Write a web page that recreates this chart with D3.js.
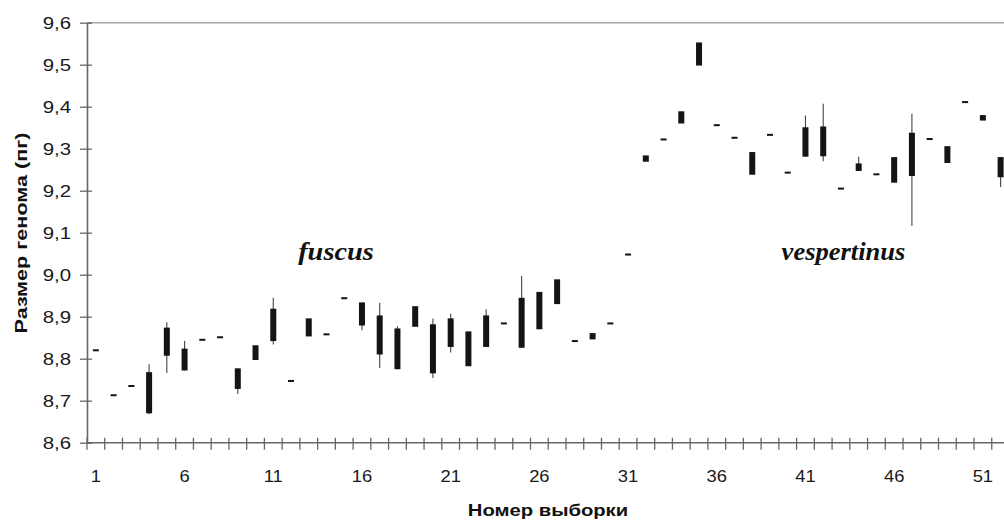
<!DOCTYPE html>
<html>
<head>
<meta charset="utf-8">
<script src="https://cdn.jsdelivr.net/npm/d3@7"></script>
<style>
  body { margin: 0; background: #fff; }
  svg { display: block; }
</style>
</head>
<body>
<script>
// номер выборки 1..52
const samples = d3.range(1, 53)

// границы прямоугольника (верх / низ) и усы (макс / мин), пг
const boxTop = [
  8.820, 8.713, 8.735, 8.768, 8.874, 8.824, 8.845, 8.851, 8.777, 8.832,
  8.919, 8.747, 8.896, 8.858, 8.944, 8.934, 8.903, 8.872, 8.925, 8.882,
  8.896, 8.865, 8.903, 8.884, 8.945, 8.959, 8.989, 8.842, 8.861, 8.884,
  9.048, 9.284, 9.322, 9.389, 9.553, 9.356, 9.326, 9.292, 9.333, 9.243,
  9.351, 9.353, 9.205, 9.265, 9.239, 9.280, 9.338, 9.323, 9.306, 9.411,
  9.380, 9.280
]
const boxBottom = [
  8.820, 8.713, 8.735, 8.670, 8.807, 8.772, 8.845, 8.851, 8.728, 8.797,
  8.842, 8.747, 8.853, 8.858, 8.944, 8.879, 8.810, 8.775, 8.876, 8.765,
  8.828, 8.782, 8.828, 8.884, 8.826, 8.870, 8.930, 8.842, 8.846, 8.884,
  9.048, 9.269, 9.322, 9.360, 9.498, 9.356, 9.326, 9.238, 9.333, 9.243,
  9.281, 9.282, 9.205, 9.247, 9.239, 9.219, 9.235, 9.323, 9.266, 9.411,
  9.367, 9.232
]
const whiskerHigh = [
  8.820, 8.713, 8.735, 8.787, 8.887, 8.842, 8.845, 8.851, 8.777, 8.832,
  8.945, 8.747, 8.896, 8.858, 8.944, 8.934, 8.933, 8.877, 8.925, 8.896,
  8.907, 8.865, 8.918, 8.884, 8.997, 8.959, 8.989, 8.842, 8.861, 8.884,
  9.048, 9.284, 9.322, 9.389, 9.553, 9.356, 9.326, 9.292, 9.333, 9.243,
  9.379, 9.407, 9.205, 9.281, 9.239, 9.280, 9.383, 9.323, 9.306, 9.411,
  9.380, 9.280
]
const whiskerLow = [
  8.820, 8.713, 8.735, 8.668, 8.766, 8.772, 8.845, 8.851, 8.716, 8.797,
  8.834, 8.747, 8.853, 8.858, 8.944, 8.868, 8.778, 8.775, 8.876, 8.754,
  8.815, 8.782, 8.828, 8.884, 8.826, 8.870, 8.930, 8.842, 8.846, 8.884,
  9.048, 9.269, 9.322, 9.360, 9.498, 9.356, 9.326, 9.238, 9.333, 9.243,
  9.281, 9.270, 9.205, 9.247, 9.239, 9.219, 9.116, 9.323, 9.266, 9.411,
  9.367, 9.209
]

const yTicks = [8.6, 8.7, 8.8, 8.9, 9.0, 9.1, 9.2, 9.3, 9.4, 9.5, 9.6]
const xLabels = [1, 6, 11, 16, 21, 26, 31, 36, 41, 46, 51]
const groupNames = ["fuscus", "vespertinus"]

const width = 1004, height = 520
const band = 17.74
const plot = { left: 87, top: 22.7, bottom: 442.7 }
const sans = "'Liberation Sans', Arial, sans-serif"
const serif = "'Liberation Serif', 'Times New Roman', serif"

const data = samples.map(function(s, i) {
  return { s: s, top: boxTop[i], bottom: boxBottom[i], hi: whiskerHigh[i], lo: whiskerLow[i] }
})

// картинка растянута по горизонтали, поэтому текст тоже растягиваем
function stretch(sel, k) {
  sel.each(function() {
    const w = this.getComputedTextLength()
    d3.select(this).attr("textLength", w * k).attr("lengthAdjust", "spacingAndGlyphs")
  })
}

const svg = d3.select("body").append("svg")
  .attr("width", width)
  .attr("height", height)

const x = d3.scaleBand()
  .domain(samples)
  .range([plot.left, plot.left + band * samples.length])
  .paddingInner(0).paddingOuter(0)

const y = d3.scaleLinear()
  .domain([8.6, 9.6])
  .range([plot.bottom, plot.top])

const fmt = function(d) { return d3.format(".1f")(d).replace(".", ",") }

// рамка сверху
svg.append("line")
  .attr("x1", plot.left).attr("x2", width)
  .attr("y1", y(9.6)).attr("y2", y(9.6))
  .attr("stroke", "#a8a8a8").attr("stroke-width", 1.5)

// ось Y
const yAxis = svg.append("g")
  .attr("transform", `translate(${plot.left},0)`)
  .call(d3.axisLeft(y).tickValues(yTicks).tickFormat(fmt).tickSizeInner(7).tickSizeOuter(0).tickPadding(9))
yAxis.select(".domain").attr("stroke", "#666").attr("stroke-width", 1.6)
yAxis.selectAll(".tick line").attr("stroke", "#666").attr("stroke-width", 1.3)
  .attr("x2", 5).attr("x1", -7)
yAxis.selectAll(".tick text")
  .style("font-family", sans)
  .style("font-size", "17px")
  .attr("fill", "#1a1a1a")
  .call(stretch, 1.2)

// ось X: штрихи на границах категорий
const xAxisG = svg.append("g")
  .attr("transform", `translate(0,${plot.bottom})`)
xAxisG.append("line")
  .attr("x1", plot.left).attr("x2", width)
  .attr("stroke", "#666").attr("stroke-width", 1.6)
xAxisG.selectAll(".xt")
  .data(samples)
  .enter().append("line")
  .attr("class", "xt")
  .attr("x1", function(d) { return x(d) })
  .attr("x2", function(d) { return x(d) })
  .attr("y1", -5).attr("y2", 7)
  .attr("stroke", "#666").attr("stroke-width", 1.3)
xAxisG.selectAll(".xl")
  .data(xLabels)
  .enter().append("text")
  .attr("class", "xl")
  .attr("x", function(d) { return x(d) + x.bandwidth() / 2 })
  .attr("y", 39)
  .attr("text-anchor", "middle")
  .style("font-family", sans)
  .style("font-size", "17px")
  .attr("fill", "#1a1a1a")
  .text(function(d) { return d })
  .call(stretch, 1.08)

// усы
svg.selectAll(".whisker")
  .data(data.filter(function(d) { return d.hi > d.top || d.lo < d.bottom }))
  .enter().append("line")
  .attr("class", "whisker")
  .attr("x1", function(d) { return x(d.s) + x.bandwidth() / 2 })
  .attr("x2", function(d) { return x(d.s) + x.bandwidth() / 2 })
  .attr("y1", function(d) { return y(d.hi) })
  .attr("y2", function(d) { return y(d.lo) })
  .attr("stroke", "#444")
  .attr("stroke-width", 1.1)

// прямоугольники
const boxW = 6
svg.selectAll(".box")
  .data(data)
  .enter().append("rect")
  .attr("class", "box")
  .attr("x", function(d) { return x(d.s) + x.bandwidth() / 2 - boxW / 2 })
  .attr("y", function(d) {
    const h = y(d.bottom) - y(d.top)
    return h < 2 ? y(d.top) - 1 : y(d.top)
  })
  .attr("width", boxW)
  .attr("height", function(d) { return Math.max(2, y(d.bottom) - y(d.top)) })
  .attr("fill", "#141414")

// подписи групп
const groupX = [336, 843.5]
const groupK = [1.09, 1.02]
svg.selectAll(".group")
  .data(groupNames)
  .enter().append("text")
  .attr("class", "group")
  .attr("x", function(d, i) { return groupX[i] })
  .attr("y", y(9.036))
  .attr("text-anchor", "middle")
  .style("font-family", serif)
  .style("font-style", "italic")
  .style("font-weight", "bold")
  .style("font-size", "26px")
  .attr("fill", "#111")
  .text(function(d) { return d })
  .each(function(d, i) { d3.select(this).call(stretch, groupK[i]) })

// заголовки осей
svg.append("text")
  .attr("x", 548).attr("y", 516)
  .attr("text-anchor", "middle")
  .style("font-family", sans)
  .style("font-weight", "bold")
  .style("font-size", "17px")
  .attr("fill", "#111")
  .text("Номер выборки")
  .call(stretch, 1.19)

svg.append("text")
  .attr("transform", "translate(27,233) rotate(-90)")
  .attr("text-anchor", "middle")
  .style("font-family", sans)
  .style("font-weight", "bold")
  .style("font-size", "16px")
  .attr("fill", "#111")
  .text("Размер генома (пг)")
  .each(function() {
    d3.select(this).attr("textLength", 201).attr("lengthAdjust", "spacingAndGlyphs")
  })
</script>
</body>
</html>
